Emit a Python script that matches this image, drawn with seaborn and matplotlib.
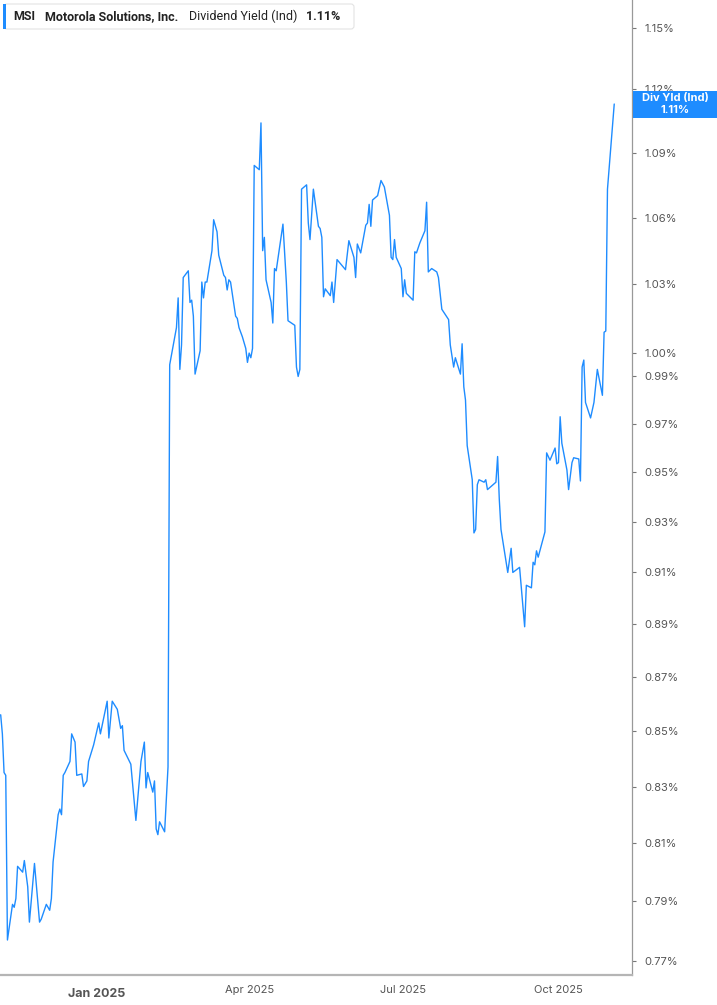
import numpy as np
import pandas as pd
import seaborn as sns
import matplotlib.pyplot as plt
import matplotlib.dates as mdates
import matplotlib.ticker as mticker
from matplotlib.patches import FancyBboxPatch, Rectangle


LINE_BLUE = "#1e8cff"
GREY_TEXT = "#555555"

# dividend yield (%), one entry per visible vertex
dates = [
    "2024-11-05", "2024-11-06", "2024-11-07", "2024-11-08", "2024-11-09", "2024-11-10",
    "2024-11-12", "2024-11-13", "2024-11-14", "2024-11-15", "2024-11-18", "2024-11-19",
    "2024-11-21", "2024-11-22", "2024-11-25", "2024-11-28", "2024-11-29", "2024-12-02",
    "2024-12-04", "2024-12-05", "2024-12-06", "2024-12-09", "2024-12-10", "2024-12-11",
    "2024-12-12", "2024-12-13", "2024-12-16", "2024-12-17", "2024-12-19", "2024-12-20",
    "2024-12-23", "2024-12-24", "2024-12-26", "2024-12-27", "2024-12-30", "2025-01-02",
    "2025-01-03", "2025-01-07", "2025-01-08", "2025-01-10", "2025-01-13", "2025-01-15",
    "2025-01-16", "2025-01-17", "2025-01-21", "2025-01-24", "2025-01-27", "2025-01-29",
    "2025-01-30", "2025-01-31", "2025-02-03", "2025-02-04", "2025-02-05", "2025-02-06",
    "2025-02-07", "2025-02-10", "2025-02-12", "2025-02-13", "2025-02-17", "2025-02-18",
    "2025-02-19", "2025-02-20", "2025-02-21", "2025-02-24", "2025-02-25", "2025-02-26",
    "2025-02-27", "2025-02-28", "2025-03-03", "2025-03-04", "2025-03-05", "2025-03-06",
    "2025-03-07", "2025-03-10", "2025-03-11", "2025-03-13", "2025-03-14", "2025-03-17",
    "2025-03-18", "2025-03-19", "2025-03-20", "2025-03-21", "2025-03-24", "2025-03-25",
    "2025-03-26", "2025-03-28", "2025-03-30", "2025-03-31", "2025-04-01", "2025-04-02",
    "2025-04-03", "2025-04-04", "2025-04-07", "2025-04-08", "2025-04-09", "2025-04-10",
    "2025-04-11", "2025-04-14", "2025-04-15", "2025-04-16", "2025-04-17", "2025-04-21",
    "2025-04-23", "2025-04-24", "2025-04-28", "2025-04-29", "2025-04-30", "2025-05-01",
    "2025-05-02", "2025-05-05", "2025-05-06", "2025-05-07", "2025-05-09", "2025-05-12",
    "2025-05-13", "2025-05-14", "2025-05-15", "2025-05-16", "2025-05-19", "2025-05-20",
    "2025-05-21", "2025-05-23", "2025-05-28", "2025-05-30", "2025-06-02", "2025-06-03",
    "2025-06-04", "2025-06-06", "2025-06-09", "2025-06-10", "2025-06-11", "2025-06-12",
    "2025-06-13", "2025-06-16", "2025-06-18", "2025-06-20", "2025-06-23", "2025-06-24",
    "2025-06-25", "2025-06-26", "2025-06-27", "2025-06-30", "2025-07-01", "2025-07-02",
    "2025-07-03", "2025-07-07", "2025-07-08", "2025-07-09", "2025-07-11", "2025-07-14",
    "2025-07-15", "2025-07-16", "2025-07-18", "2025-07-21", "2025-07-22", "2025-07-24",
    "2025-07-28", "2025-07-29", "2025-07-31", "2025-08-01", "2025-08-04", "2025-08-05",
    "2025-08-06", "2025-08-07", "2025-08-08", "2025-08-11", "2025-08-12", "2025-08-13",
    "2025-08-14", "2025-08-15", "2025-08-18", "2025-08-19", "2025-08-20", "2025-08-25",
    "2025-08-26", "2025-08-27", "2025-08-28", "2025-09-01", "2025-09-03", "2025-09-04",
    "2025-09-08", "2025-09-11", "2025-09-12", "2025-09-15", "2025-09-16", "2025-09-17",
    "2025-09-18", "2025-09-19", "2025-09-23", "2025-09-24", "2025-09-26", "2025-09-29",
    "2025-09-30", "2025-10-01", "2025-10-02", "2025-10-03", "2025-10-06", "2025-10-07",
    "2025-10-09", "2025-10-10", "2025-10-13", "2025-10-14", "2025-10-15", "2025-10-16",
    "2025-10-17", "2025-10-20", "2025-10-22", "2025-10-24", "2025-10-27", "2025-10-28",
    "2025-10-29", "2025-10-30", "2025-10-31", "2025-11-03",
]

yields = [
    0.856, 0.849, 0.835, 0.834, 0.777, 0.781,
    0.789, 0.788, 0.791, 0.802, 0.800, 0.804,
    0.795, 0.783, 0.803, 0.783, 0.784, 0.789,
    0.787, 0.791, 0.8035, 0.820, 0.822, 0.820,
    0.834, 0.835, 0.839, 0.849, 0.846, 0.834,
    0.8345, 0.830, 0.832, 0.839, 0.845, 0.853,
    0.849, 0.861, 0.8475, 0.861, 0.858, 0.851,
    0.852, 0.843, 0.838, 0.818, 0.839, 0.846,
    0.8295, 0.835, 0.828, 0.832, 0.815, 0.813,
    0.8175, 0.814, 0.837, 0.995, 1.011, 1.024,
    0.993, 1.0035, 1.033, 1.036, 1.022, 1.023,
    1.016, 0.991, 1.001, 1.031, 1.024, 1.031,
    1.031, 1.045, 1.059, 1.0535, 1.043, 1.034,
    1.033, 1.0275, 1.032, 1.031, 1.016, 1.015,
    1.011, 1.007, 1.002, 0.996, 1.000, 0.998,
    1.002, 1.084, 1.082, 1.104, 1.045, 1.051,
    1.032, 1.022, 1.013, 1.037, 1.036, 1.057,
    1.031, 1.014, 1.012, 0.994, 0.990, 0.993,
    1.073, 1.075, 1.0575, 1.050, 1.073, 1.056,
    1.055, 1.051, 1.0245, 1.028, 1.025, 1.031,
    1.022, 1.041, 1.0365, 1.0495, 1.042, 1.033,
    1.048, 1.044, 1.0565, 1.0575, 1.066, 1.056,
    1.068, 1.070, 1.077, 1.074, 1.061, 1.042,
    1.041, 1.050, 1.042, 1.037, 1.0245, 1.032,
    1.026, 1.023, 1.0445, 1.044, 1.0485, 1.054,
    1.067, 1.0355, 1.037, 1.0355, 1.033, 1.019,
    1.0145, 1.0035, 0.994, 0.998, 0.991, 1.004,
    0.9856, 0.980, 0.961, 0.947, 0.9256, 0.927,
    0.945, 0.947, 0.946, 0.947, 0.943, 0.946,
    0.9565, 0.939, 0.927, 0.910, 0.9195, 0.910,
    0.912, 0.889, 0.905, 0.904, 0.914, 0.913,
    0.9185, 0.916, 0.926, 0.958, 0.955, 0.960,
    0.9535, 0.954, 0.973, 0.962, 0.951, 0.943,
    0.954, 0.956, 0.9555, 0.9465, 0.994, 0.997,
    0.979, 0.9725, 0.979, 0.993, 0.982, 1.009,
    1.0095, 1.073, 1.083, 1.113,
]

y_ticks = [0.77, 0.79, 0.81, 0.83, 0.85, 0.87, 0.89, 0.91, 0.93, 0.95, 0.97, 0.99,
           1.00, 1.03, 1.06, 1.09, 1.12, 1.15]

ticker_symbol = "MSI"
company = "Motorola Solutions, Inc."
metric = "Dividend Yield (Ind)"
last_label = "1.11%"

df = pd.DataFrame({"date": pd.to_datetime(dates), "yield": yields})

sns.set_style("white")
plt.rcParams["font.family"] = ["Inter", "DejaVu Sans"]

fig = plt.figure(figsize=(7.17, 10.05), dpi=100)
ax = fig.add_axes([0, 0.02985, 0.8819, 0.97015])

sns.lineplot(data=df, x="date", y="yield", ax=ax, color=LINE_BLUE, linewidth=1.0)

ax.set_yscale("log")
ax.set_ylim(0.7654, 1.1639)
jan1 = pd.Timestamp("2025-01-01")
ax.set_xlim(jan1 - pd.Timedelta(days=57.4), jan1 + pd.Timedelta(days=316.7))

ax.yaxis.tick_right()
ax.yaxis.set_major_locator(mticker.FixedLocator(y_ticks))
ax.yaxis.set_minor_locator(mticker.NullLocator())
ax.yaxis.set_major_formatter(mticker.FuncFormatter(lambda v, _: f"{v:.2f}%"))
ax.tick_params(axis="y", which="major", length=3, width=0.8, color="#777777",
               labelsize=8, labelcolor=GREY_TEXT, pad=6, direction="out")

ax.xaxis.set_major_locator(mdates.MonthLocator(bymonth=[1, 4, 7, 10]))
ax.xaxis.set_major_formatter(mdates.DateFormatter("%b %Y"))
ax.tick_params(axis="x", length=4, width=0.8, color="#999999",
               labelsize=8, labelcolor=GREY_TEXT, pad=3)
for lab in ax.get_xticklabels():
    if lab.get_text().startswith("Jan"):
        lab.set_fontweight("bold")
        lab.set_fontsize(9)
        lab.set_y(-0.003)

ax.set_xlabel("")
ax.set_ylabel("")
for side in ["top", "left"]:
    ax.spines[side].set_visible(False)
ax.spines["right"].set_color("#999999")
ax.spines["right"].set_linewidth(0.9)
ax.spines["bottom"].set_color("#b5b5b5")
ax.spines["bottom"].set_linewidth(1.6)

# overlay in pixel coordinates for the header and the value badge
ov = fig.add_axes([0, 0, 1, 1], facecolor="none")
ov.set_xlim(0, 717)
ov.set_ylim(1005, 0)
ov.axis("off")

head_font = ["Roboto", "DejaVu Sans"]
ov.add_patch(FancyBboxPatch((4, 4), 350, 25, boxstyle="round,pad=0,rounding_size=3",
                            facecolor="white", edgecolor="#e3e3e3", linewidth=0.8))
ov.add_patch(Rectangle((3, 4), 3, 25, facecolor=LINE_BLUE, edgecolor="none"))
ov.text(13, 16.5, ticker_symbol, fontsize=9, fontweight="bold", color="#222222",
        va="center", family=head_font)
ov.text(45, 16.5, company, fontsize=9, fontweight="bold", color="#222222",
        va="center", family=head_font)
ov.text(189, 16.5, metric, fontsize=9, color="#222222", va="center", family=head_font)
ov.text(306, 16.5, last_label, fontsize=9, fontweight="bold", color="#222222",
        va="center", family=head_font)

ov.add_patch(Rectangle((633, 91), 84, 27, facecolor=LINE_BLUE, edgecolor="none", zorder=5))
ov.text(675, 98, "Div Yld (Ind)", fontsize=8, fontweight="bold", color="white",
        ha="center", va="center", zorder=6)
ov.text(675, 110, last_label, fontsize=8, fontweight="bold", color="white",
        ha="center", va="center", zorder=6)

fig.savefig("out.png", dpi=100)
